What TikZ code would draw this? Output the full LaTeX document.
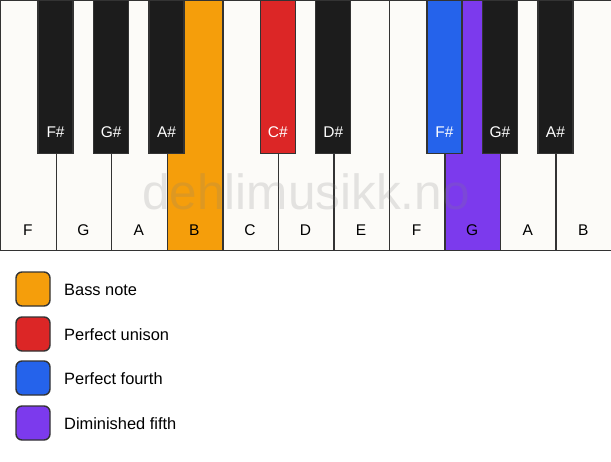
\documentclass[tikz,border=0pt]{standalone}
\usepackage{fontspec}
\setmainfont{Liberation Sans}
\definecolor{keywhite}{HTML}{FCFBF8}
\definecolor{keyblack}{HTML}{1C1C1C}
\definecolor{keyline}{HTML}{333333}
\definecolor{bassnote}{HTML}{F59E0B}
\definecolor{unison}{HTML}{DC2626}
\definecolor{fourth}{HTML}{2563EB}
\definecolor{dimfifth}{HTML}{7C3AED}
\tikzset{
  whitekey/.style={draw=keyline, line width=1.4pt, fill=keywhite, rectangle,
    minimum width=55.545pt, minimum height=250pt, anchor=north west, inner sep=0pt},
  blackkey/.style={draw=keyline, line width=1.4pt, fill=keyblack, rectangle,
    minimum width=35pt, minimum height=153pt, anchor=north, inner sep=0pt},
  keylabel/.style={font=\fontsize{15.5}{18}\selectfont},
  legendbox/.style={draw=keyline, line width=1.4pt, rounded corners=6pt,
    minimum size=34pt, inner sep=0pt},
  legendtext/.style={font=\fontsize{16.4}{19}\selectfont, anchor=west, inner sep=0pt}
}
\begin{document}
\begin{tikzpicture}[x=1pt,y=-1pt]
  \useasboundingbox[fill=white] (0,0) rectangle (611,461);

  % white keys
  \foreach \n/\name/\col in {0/F/keywhite,1/G/keywhite,2/A/keywhite,3/B/bassnote,
      4/C/keywhite,5/D/keywhite,6/E/keywhite,7/F/keywhite,8/G/dimfifth,
      9/A/keywhite,10/B/keywhite} {
    \node (w\n) [whitekey, fill=\col] at (\n*55.545,0) {};
    \node (wl\n) [keylabel] at (\n*55.545+27.77,230) {\name};
  }

  % watermark
  \node (mark) [text=gray, opacity=0.2, font=\fontsize{49.5}{50}\selectfont]
    at (306,192) {dehlimusikk.no};

  % black keys
  \foreach \n/\name/\col in {1/F\#/keyblack,2/G\#/keyblack,3/A\#/keyblack,
      5/C\#/unison,6/D\#/keyblack,8/F\#/fourth,9/G\#/keyblack,10/A\#/keyblack} {
    \node (b\n) [blackkey, fill=\col] at (\n*55.545,0) {};
    \node (bl\n) [keylabel, text=white] at (\n*55.545,132) {\name};
  }

  % legend
  \node (leg1) [legendbox, fill=bassnote] at (33,289) {};
  \node (leg2) [legendbox, fill=unison]   at (33,334) {};
  \node (leg3) [legendbox, fill=fourth]   at (33,378) {};
  \node (leg4) [legendbox, fill=dimfifth] at (33,423) {};
  \node (txt1) [legendtext] at (64,290) {Bass note};
  \node (txt2) [legendtext] at (64,335) {Perfect unison};
  \node (txt3) [legendtext] at (64,379) {Perfect fourth};
  \node (txt4) [legendtext] at (64,424) {Diminished fifth};
\end{tikzpicture}
\end{document}
